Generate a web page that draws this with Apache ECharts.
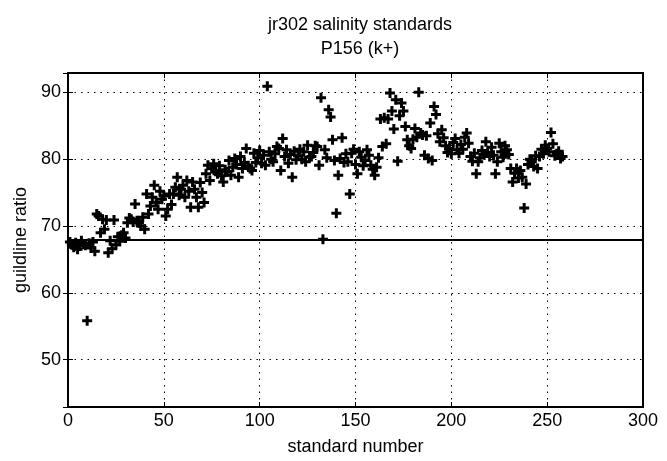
<!DOCTYPE html>
<html>
<head>
<meta charset="utf-8">
<script src="https://cdn.jsdelivr.net/npm/echarts@6/dist/echarts.min.js"></script>
<style>html,body{margin:0;padding:0;background:#fff;}#c{width:667px;height:461px;}</style>
</head>
<body>
<div id="c"></div>
<script>
var titleLines = ["jr302 salinity standards", "P156 (k+)"];
var xLabel = "standard number";
var yLabel = "guildline ratio";
var refLevel = 67.9;
var ratios = [
67.6, 67.2, 66.8, 67.5, 66.5, 67.0, 67.8, 67.3, 67.1, 55.8,
67.4, 66.7, 67.6, 66.2, 71.8, 71.5, 69.0, 71.0, 69.5, 70.9,
66.0, 67.8, 66.6, 70.9, 67.2, 68.4, 67.7, 68.6, 69.0, 68.2,
70.5, 71.2, 71.0, 70.6, 73.3, 70.8, 70.5, 70.0, 71.3, 69.5,
74.8, 71.8, 73.0, 74.3, 76.1, 73.5, 72.5, 75.2, 74.0, 74.5,
71.5, 72.5, 74.8, 73.2, 74.8, 75.8, 77.3, 74.6, 75.5, 76.1,
74.3, 76.8, 75.2, 72.8, 76.6, 75.5, 74.3, 72.8, 76.5, 75.0,
73.5, 77.8, 79.1, 76.8, 78.6, 79.3, 78.2, 77.8, 79.0, 77.5,
76.6, 78.4, 78.1, 79.8, 77.6, 78.8, 80.1, 79.2, 77.3, 80.4,
78.6, 79.5, 81.6, 79.0, 78.6, 78.3, 80.9, 79.5, 80.2, 81.3,
79.4, 80.6, 79.1, 90.9, 81.1, 80.0, 79.6, 80.8, 81.9, 81.6,
78.3, 83.1, 80.4, 81.4, 79.4, 80.7, 77.3, 81.2, 79.9, 80.5,
81.5, 80.0, 81.1, 79.6, 82.1, 80.3, 80.4, 81.0, 82.0, 81.9,
79.1, 89.2, 68.0, 81.4, 80.2, 87.4, 86.3, 82.9, 79.8, 71.9,
77.6, 80.1, 83.2, 79.5, 80.8, 79.6, 74.8, 80.9, 81.5, 79.2,
77.8, 81.1, 80.3, 79.0, 79.8, 81.4, 80.6, 79.1, 78.5, 77.6,
78.8, 80.2, 86.0, 81.9, 86.2, 82.3, 86.0, 89.9, 87.2, 84.5,
88.9, 79.7, 86.5, 88.4, 87.2, 84.9, 82.9, 82.0, 81.6, 83.0,
84.6, 83.3, 90.0, 83.9, 83.6, 80.6, 83.5, 80.1, 85.4, 79.8,
87.9, 86.7, 83.8, 82.6, 84.4, 83.2, 82.0, 81.0, 81.6, 80.8,
82.5, 83.1, 81.4, 80.9, 82.2, 81.5, 83.3, 83.9, 82.4, 80.4,
79.7, 80.9, 77.8, 79.6, 80.2, 81.3, 80.7, 82.6, 81.0, 80.4,
81.8, 80.6, 77.8, 79.6, 82.4, 81.1, 80.3, 82.0, 81.4, 80.7,
78.6, 76.6, 77.9, 78.6, 77.2, 78.3, 77.3, 72.7, 76.3, 79.2,
80.0, 79.6, 78.9, 80.5, 78.6, 80.4, 81.5, 80.8, 82.1, 81.6,
81.1, 84.0, 82.3, 80.5, 80.8, 81.2, 80.1, 80.4
];
var xMin = 0, xMax = 300, xStep = 50;
var yMin = 42.9, yMax = 92.9;

var pts = ratios.map(function (v, i) { return [i + 1, v]; });
var FONT = "'Liberation Sans', Arial, sans-serif";
var plus = 'path://M3.5,0H6.5V3.5H10V6.5H6.5V10H3.5V6.5H0V3.5H3.5Z';
var dotted = { color: '#000', width: 1, type: [1.5, 5] };

var chart = echarts.init(document.getElementById('c'), null, { renderer: 'canvas' });
chart.setOption({
  animation: false,
  backgroundColor: '#fff',
  title: {
    text: titleLines.join('\n'),
    left: 355, top: 8, textAlign: 'center',
    textStyle: { fontFamily: FONT, fontSize: 18, fontWeight: 'normal', color: '#000', lineHeight: 24 }
  },
  grid: { left: 68, right: 24, top: 73, bottom: 54, show: true, borderColor: '#000', borderWidth: 2, backgroundColor: 'transparent' },
  xAxis: [{
    type: 'value', min: xMin, max: xMax, interval: xStep,
    name: xLabel, nameLocation: 'middle', nameGap: 31,
    nameTextStyle: { fontFamily: FONT, fontSize: 18, color: '#000' },
    axisLine: { show: false },
    axisTick: { show: true, inside: true, length: 5, lineStyle: { color: '#000', width: 1 } },
    axisLabel: { fontFamily: FONT, fontSize: 18, color: '#000', margin: 5 },
    splitLine: { show: true, lineStyle: dotted }
  }, {
    type: 'value', min: xMin, max: xMax, interval: xStep, position: 'top',
    axisLine: { show: false },
    axisTick: { show: true, inside: true, length: 5, lineStyle: { color: '#000', width: 1 } },
    axisLabel: { show: false }, splitLine: { show: false }
  }],
  yAxis: [{
    type: 'value', min: yMin, max: yMax, splitNumber: 5,
    name: yLabel, nameLocation: 'middle', nameGap: 37,
    nameTextStyle: { fontFamily: FONT, fontSize: 18, color: '#000' },
    axisLine: { show: false },
    axisTick: { show: true, inside: true, length: 5, lineStyle: { color: '#000', width: 1 } },
    axisLabel: { fontFamily: FONT, fontSize: 18, color: '#000', margin: 7, showMinLabel: false, showMaxLabel: false },
    splitLine: { show: true, lineStyle: dotted }
  }, {
    type: 'value', min: yMin, max: yMax, splitNumber: 5, position: 'right',
    axisLine: { show: false },
    axisTick: { show: true, inside: true, length: 5, lineStyle: { color: '#000', width: 1 } },
    axisLabel: { show: false }, splitLine: { show: false }
  }],
  series: [{
    type: 'line',
    data: [[xMin, refLevel], [xMax, refLevel]],
    symbol: 'none',
    lineStyle: { color: '#000', width: 2 },
    z: 3
  }, {
    type: 'scatter',
    data: pts,
    symbol: plus,
    symbolSize: 10,
    itemStyle: { color: '#000', opacity: 1 },
    z: 4
  }]
});
</script>
</body>
</html>
